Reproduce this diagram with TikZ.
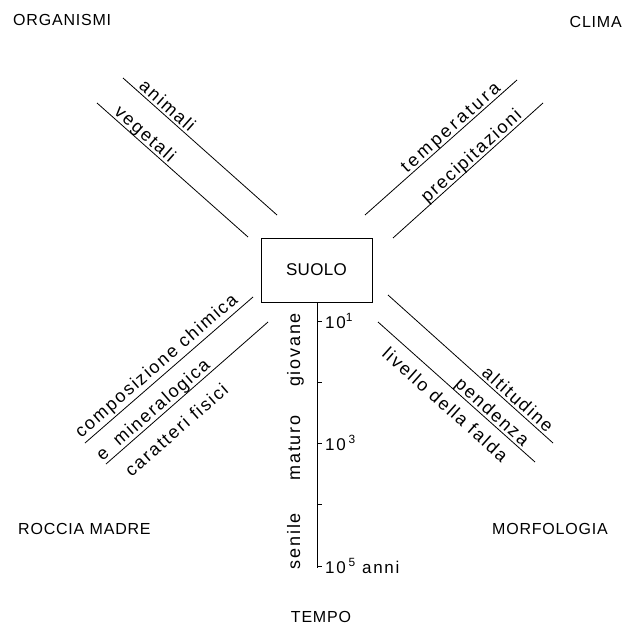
\documentclass[tikz,border=0pt]{standalone}
\usepackage{fontspec}
\usetikzlibrary{calc}
\setmainfont{Liberation Sans}[LetterSpace=10]
\newfontfamily\headfont{Liberation Sans}[LetterSpace=5]
\newfontfamily\boxfont{Liberation Sans}[LetterSpace=2]
\begin{document}
\begin{tikzpicture}[x=1pt,y=-1pt,
  rule/.style={line width=0.8pt},
  caps/.style={font=\headfont\fontsize{16}{19}\selectfont, inner sep=0pt},
  lab/.style={font=\fontsize{18}{21}\selectfont, inner sep=0pt},
  onrule/.style={lab, sloped, anchor=base, yshift=3pt},
  underrule/.style={lab, sloped, anchor=base, yshift=-23pt},
  tick/.style={line width=0.8pt},
  ticklab/.style={font=\fontsize{17}{20}\selectfont, inner sep=0pt, anchor=west},
  agelab/.style={lab, rotate=90, anchor=base}]
\useasboundingbox (0,0) rectangle (625,628);

% factor headings
\node[caps, anchor=base west] (org) at (13,26) {ORGANISMI};
\node[caps, anchor=base east] (clima) at (622,28) {CLIMA};
\node[caps, anchor=base west] (roccia) at (18,534) {ROCCIA MADRE};
\node[caps, anchor=base east] (morfo) at (608,534) {MORFOLOGIA};
\node[caps, anchor=base] (tempo) at (321,622) {TEMPO};

% central box
\node[draw, rule, minimum width=111pt, minimum height=64pt, inner sep=0pt,
      font=\boxfont\fontsize{17}{20}\selectfont] (suolo) at (316.5,270) {SUOLO};

% organisms
\coordinate (a1) at (123,78);  \coordinate (a2) at (277,215);
\coordinate (v1) at (97,103);  \coordinate (v2) at (248,237);
\draw[rule] (a1) -- (a2) node[onrule, pos=0.25] {animali};
\draw[rule] (v1) -- (v2) node[onrule, pos=0.28] {vegetali};

% climate
\coordinate (t1) at (365,215); \coordinate (t2) at (517,80);
\coordinate (p1) at (393,238); \coordinate (p2) at (543,103);
\draw[rule] (t1) -- (t2) node[onrule, pos=0.6, font=\addfontfeature{LetterSpace=16}\fontsize{18}{21}\selectfont] {temperatura};
\draw[rule] (p1) -- (p2) node[onrule, pos=0.56] {precipitazioni};

% parent rock
\coordinate (c1) at (85,443);  \coordinate (c2) at (253,297);
\coordinate (f1) at (106,464); \coordinate (f2) at (268,322);
\draw[rule] (c1) -- (c2) node[onrule, yshift=3pt, pos=0.47] {composizione chimica};
\draw[rule] (f1) -- (f2) node[onrule, yshift=1pt, pos=0.33] {e\hspace{0.3em} mineralogica}
                         node[underrule, yshift=-4pt, pos=0.35] {caratteri fisici};

% morphology
\coordinate (h1) at (388,295); \coordinate (h2) at (553,443);
\coordinate (l1) at (378,322); \coordinate (l2) at (535,462);
\draw[rule] (h1) -- (h2) node[onrule, pos=0.75] {altitudine};
\draw[rule] (l1) -- (l2) node[onrule, pos=0.69] {pendenza}
                         node[underrule, pos=0.5] {livello della falda};

% time axis
\coordinate (tend) at (317,568);
\draw[rule] (suolo.south -| tend) -- (tend);
\foreach \y/\n in {321/k1,382/k2,443/k3,504/k4,566/k5}
  \draw[tick] (317,\y) coordinate (\n) -- ++(5,0);
\node[ticklab] (y1) at ($(k1)+(8,0)$) {10\textsuperscript{1}};
\node[ticklab] (y3) at ($(k3)+(8,0)$) {10\,\textsuperscript{3}};
\node[ticklab] (y5) at ($(k5)+(8,0)$) {10\,\textsuperscript{5} anni};

\node[agelab] (giov) at (300,350) {giovane};
\node[agelab] (mat) at (300,448) {maturo};
\node[agelab] (sen) at (300,541) {senile};
\end{tikzpicture}
\end{document}
